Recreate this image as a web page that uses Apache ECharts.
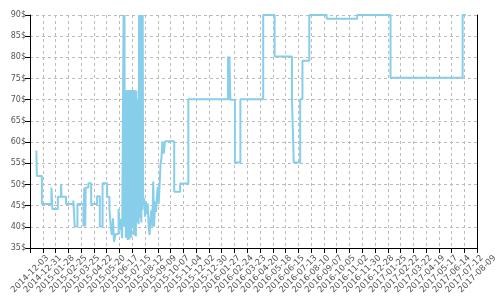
<!DOCTYPE html>
<html><head><meta charset="utf-8">
<script src="https://cdn.jsdelivr.net/npm/echarts@6/dist/echarts.min.js"></script>
<style>html,body{margin:0;padding:0;background:#fff}#c{width:500px;height:300px}</style>
</head><body><div id="c"></div>
<script>
// Price history (step line)
var dates = [
"2014-12-17","2014-12-18","2014-12-29","2015-01-19","2015-01-21","2015-02-02","2015-02-09","2015-02-10","2015-02-20",
"2015-03-08","2015-03-11","2015-03-17","2015-03-30","2015-04-01","2015-04-03","2015-04-04","2015-04-10","2015-04-16",
"2015-04-29","2015-05-05","2015-05-11","2015-05-21","2015-05-26","2015-05-29","2015-05-31","2015-06-03","2015-06-05",
"2015-06-09","2015-06-15","2015-06-17","2015-06-19","2015-06-23","2015-06-26","2015-06-27","2015-06-28","2015-06-29","2015-06-30",
"2015-07-01","2015-07-02","2015-07-03","2015-07-04","2015-07-05","2015-07-06","2015-07-07","2015-07-08","2015-07-09","2015-07-10",
"2015-07-11","2015-07-12","2015-07-13","2015-07-14","2015-07-15","2015-07-16","2015-07-17","2015-07-18","2015-07-19","2015-07-20",
"2015-07-21","2015-07-22","2015-07-23","2015-07-24","2015-07-25","2015-07-26","2015-07-27","2015-07-28","2015-07-29","2015-07-30",
"2015-07-31","2015-08-01","2015-08-02","2015-08-03","2015-08-04","2015-08-05","2015-08-06","2015-08-07","2015-08-08",
"2015-08-10","2015-08-12","2015-08-14","2015-08-16","2015-08-18","2015-08-20","2015-08-22","2015-08-24","2015-08-26","2015-08-28",
"2015-08-30","2015-09-01","2015-09-03","2015-09-05","2015-09-07","2015-09-09","2015-09-11","2015-09-13","2015-09-15","2015-09-17",
"2015-09-19","2015-09-22","2015-09-25","2015-09-28","2015-10-15","2015-10-28","2015-11-15",
"2016-02-10","2016-02-12","2016-02-13","2016-02-15","2016-02-25","2016-03-08","2016-04-27","2016-05-22","2016-06-29","2016-07-03",
"2016-07-17","2016-07-22","2016-08-06","2016-09-13","2016-11-19","2017-01-31","2017-07-08","2017-07-15"
];
var prices = [
58,52,45.4,49.3,44.2,47.1,50.0,47.1,45.4,
46.2,40.1,45.4,40.1,49.3,40.1,49.3,50.3,45.4,
47.2,40.1,50.3,47.1,44.2,40.1,38.1,42,36.5,
38.3,44.2,39.3,41.9,37.3,90,40,90,41,72.2,
37.4,72.2,39,72.3,36.9,72.2,38.5,72.3,37,72.2,
41,72.3,37.5,72.3,40,72.2,40.9,72.3,38,72.3,
42,72.2,37.7,72.2,41,70.1,44,70.1,40.6,90,
42,90,43,90,41,90,44,90,45,
46.8,42.4,46,43,45.5,40,38.1,42,44,40,
50.7,40,46,43.5,47.1,49.5,45.4,49.8,54.8,56.2,
60.2,57.3,60.2,60.2,48.3,50.2,70.1,
80.2,70,80.2,70,55.2,70.1,90,80.2,70.1,55.2,
70.1,79.2,90,89.1,90,75.2,90,90
];
var startDate = "2014-12-03";
var endDate = "2017-08-09";
var tickDays = 28;
var yMin = 35, yMax = 90, yStep = 5;

var DAY = 86400000;
var base = Date.parse(startDate + "T00:00:00Z");
function toDay(s){ return Math.round((Date.parse(s + "T00:00:00Z") - base) / DAY); }
function fmtDay(d){ return new Date(base + d * DAY).toISOString().slice(0,10); }
var data = dates.map(function(d,i){ return [toDay(d), prices[i]]; });

var chart = echarts.init(document.getElementById('c'));
chart.setOption({
  animation:false,
  grid:{left:30, right:15, top:15, bottom:52},
  xAxis:{type:'value', min:0, max:toDay(endDate), interval:tickDays,
    axisLine:{lineStyle:{color:'#000'}},
    axisTick:{show:true, length:5, lineStyle:{color:'#000'}},
    axisLabel:{rotate:45, margin:26, align:'center', verticalAlign:'middle',
      color:'#555', fontFamily:'DejaVu Sans', fontSize:8.5,
      formatter:function(v){return fmtDay(v);}},
    splitLine:{show:true, lineStyle:{color:'#bbb', type:[3,3]}}
  },
  yAxis:[{type:'value', min:yMin, max:yMax, interval:yStep,
    axisLine:{show:true, lineStyle:{color:'#000'}},
    axisTick:{show:true, length:5, lineStyle:{color:'#000'}},
    axisLabel:{margin:4, formatter:'{value}$', color:'#555', fontFamily:'DejaVu Sans', fontSize:8},
    splitLine:{show:true, lineStyle:{color:'#bbb', type:[3,3]}}
  },{type:'value', min:yMin, max:yMax, interval:yStep, position:'right',
    axisLine:{show:true, lineStyle:{color:'#000'}},
    axisTick:{show:false}, axisLabel:{show:false}, splitLine:{show:false}
  }],
  series:[{type:'line', step:'end', data:data, showSymbol:false,
    lineStyle:{color:'#87CEEB', width:2}, itemStyle:{color:'#87CEEB'}}]
});
</script></body></html>
